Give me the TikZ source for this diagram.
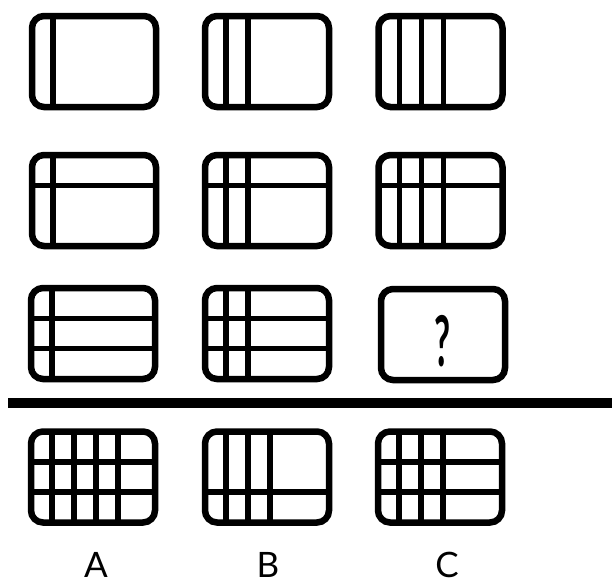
\documentclass[tikz,border=0pt]{standalone}
\usepackage{fontspec}
\setmainfont{Lato}
\usetikzlibrary{calc}

\begin{document}
\begin{tikzpicture}[x=1pt, y=-1pt,
    card/.style={draw, rounded corners=12pt, line width=6.5pt, minimum width=124pt, minimum height=91pt, inner sep=0pt, outer sep=0pt},
    bar/.style={line width=5.5pt},
    optlabel/.style={font=\fontsize{35}{38}\selectfont, inner sep=0pt},
]
\useasboundingbox (0,0) rectangle (612,584);

% puzzle grid
\node[card] (a1) at (94,61.5) {};
\node[card] (a2) at (267,61.5) {};
\node[card] (a3) at (440.5,61.5) {};
\node[card] (b1) at (94,200.5) {};
\node[card] (b2) at (267,200.5) {};
\node[card] (b3) at (440.5,200.5) {};
\node[card] (c1) at (93,333.5) {};
\node[card] (c2) at (267,333.5) {};
\node[card] (q) at (443,334.5) {};
\node[font=\fontsize{70}{72}\selectfont\bfseries, xscale=0.5, inner sep=0pt] (qmark) at (443,341) {?};

% separator
\coordinate (sepL) at (8,403);
\coordinate (sepR) at (612,403);
\draw[line width=9.5pt] (sepL) -- (sepR);

% answer options
\node[card] (ansA) at (93,477) {};
\node[card] (ansB) at (267,477) {};
\node[card] (ansC) at (440,477) {};
\node[optlabel] (labA) at (96,565) {A};
\node[optlabel] (labB) at (268,565) {B};
\node[optlabel] (labC) at (447,565) {C};

% vertical strokes
\foreach \n/\k in {a1/1, a2/2, a3/3, b1/1, b2/2, b3/3, c1/1, c2/2, ansA/4, ansB/3, ansC/3}
  \foreach \i in {1,...,\k}
    \draw[bar] ($(\n.north west)+({21+22*(\i-1)},0)$) -- ($(\n.south west)+({21+22*(\i-1)},0)$);

% horizontal strokes
\foreach \n/\j in {b1/1, b2/1, b3/1, c1/1, c1/2, c2/1, c2/2, ansA/1, ansA/2, ansB/2, ansC/1, ansC/2}
  \draw[bar] ($(\n.north west)!\j/3!(\n.south west)$) -- ($(\n.north east)!\j/3!(\n.south east)$);

\end{tikzpicture}
\end{document}
